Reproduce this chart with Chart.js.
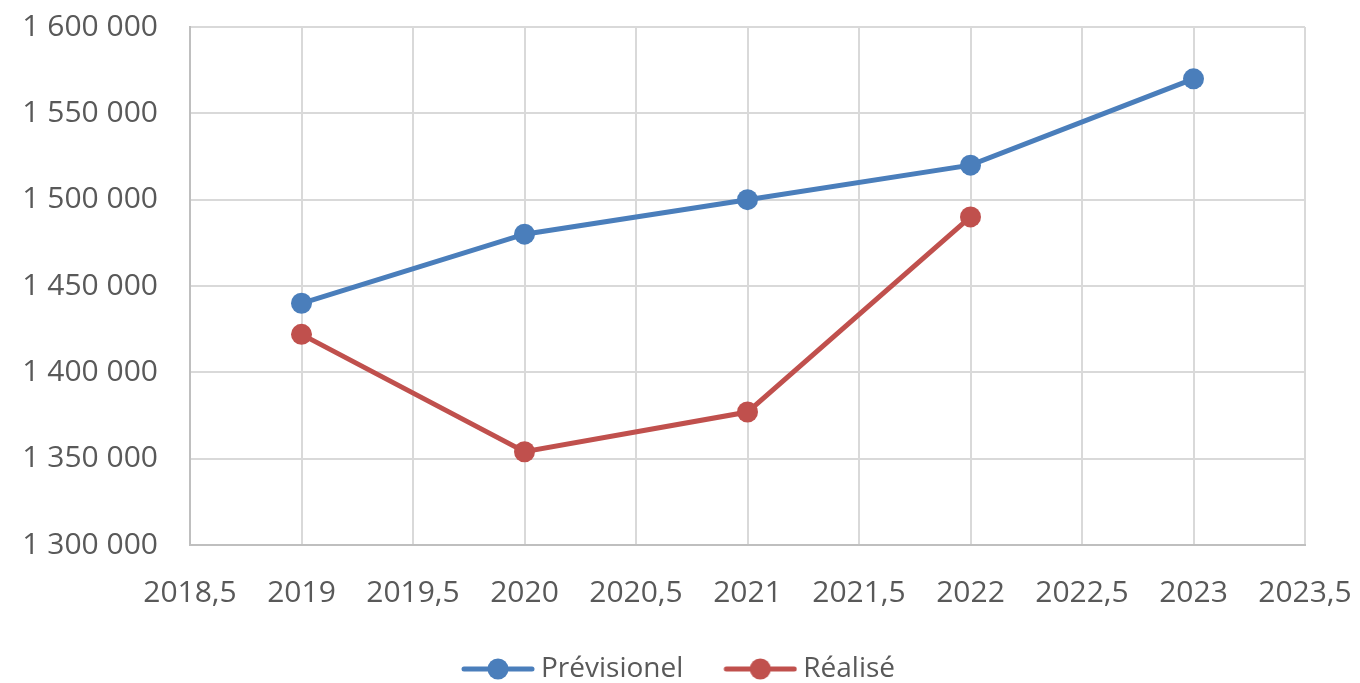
<!DOCTYPE html>
<html>
<head>
<meta charset="utf-8">
<script src="https://cdn.jsdelivr.net/npm/chart.js@4.4.1/dist/chart.umd.min.js"></script>
<style>
html,body{margin:0;padding:0;background:#fff;}
#wrap{width:1360px;height:683px;position:relative;}
</style>
</head>
<body>
<div id="wrap"><canvas id="c" width="1360" height="683"></canvas></div>
<script>
const years = [2019, 2020, 2021, 2022, 2023];
const previsionel = [1440000, 1480000, 1500000, 1520000, 1570000];
const realiseYears = [2019, 2020, 2021, 2022];
const realise = [1422000, 1354000, 1377000, 1490000];
const seriesNames = ['Prévisionel', 'Réalisé'];
const colors = ['#4a7ebb', '#c0504d'];

function legendIcon(color) {
  const cv = document.createElement('canvas');
  cv.width = 117; cv.height = 24;
  const g = cv.getContext('2d');
  const o = 43;
  g.strokeStyle = color; g.lineWidth = 5; g.lineCap = 'round';
  g.beginPath(); g.moveTo(o + 3, 12); g.lineTo(o + 71, 12); g.stroke();
  g.fillStyle = color;
  g.beginPath(); g.arc(o + 37, 12, 10.5, 0, Math.PI * 2); g.fill();
  return cv;
}
const icons = colors.map(legendIcon);

const fmtY = v => String(Math.round(v)).replace(/\B(?=(\d{3})+(?!\d))/g, ' ');
const fmtX = v => String(v).replace('.', ',');

new Chart(document.getElementById('c'), {
  type: 'line',
  data: {
    datasets: [
      {
        label: seriesNames[0],
        data: years.map((y, i) => ({x: y, y: previsionel[i]})),
        borderColor: colors[0], backgroundColor: colors[0],
        borderWidth: 5, pointRadius: 10.5, pointHoverRadius: 10.5,
        pointBorderWidth: 0
      },
      {
        label: seriesNames[1],
        data: realiseYears.map((y, i) => ({x: y, y: realise[i]})),
        borderColor: colors[1], backgroundColor: colors[1],
        borderWidth: 5, pointRadius: 10.5, pointHoverRadius: 10.5,
        pointBorderWidth: 0
      }
    ]
  },
  options: {
    responsive: false,
    animation: false,
    layout: {padding: {top: 27, right: 55, bottom: -10, left: 16}},
    scales: {
      x: {
        type: 'linear', min: 2018.5, max: 2023.5,
        ticks: {stepSize: 0.5, callback: fmtX, color: '#595959',
          font: {family: 'Open Sans', size: 30}, padding: 30, maxRotation: 0, autoSkip: false},
        grid: {color: '#d9d9d9', lineWidth: 2, drawTicks: false},
        border: {color: '#bfbfbf', width: 2},
        afterFit: s => { s.height = 105; s.paddingLeft = 0; s.paddingRight = 0; }
      },
      y: {
        min: 1300000, max: 1600000,
        ticks: {stepSize: 50000, callback: fmtY, color: '#595959',
          font: {family: 'Open Sans', size: 30}, padding: 32},
        grid: {color: '#d9d9d9', lineWidth: 2, drawTicks: false},
        border: {color: '#bfbfbf', width: 2},
        afterFit: s => { s.width = 174; s.paddingTop = 0; s.paddingBottom = 0; }
      }
    },
    plugins: {
      tooltip: {enabled: false},
      legend: {
        position: 'bottom',
        labels: {
          usePointStyle: true,
          pointStyleWidth: 101,
          padding: 5,
          color: '#595959',
          font: {family: 'Open Sans', size: 28},
          generateLabels: chart => chart.data.datasets.map((d, i) => ({
            text: d.label, pointStyle: icons[i], fillStyle: colors[i],
            strokeStyle: colors[i], lineWidth: 0, datasetIndex: i, hidden: false,
            fontColor: '#595959'
          }))
        }
      }
    }
  }
});
</script>
</body>
</html>
